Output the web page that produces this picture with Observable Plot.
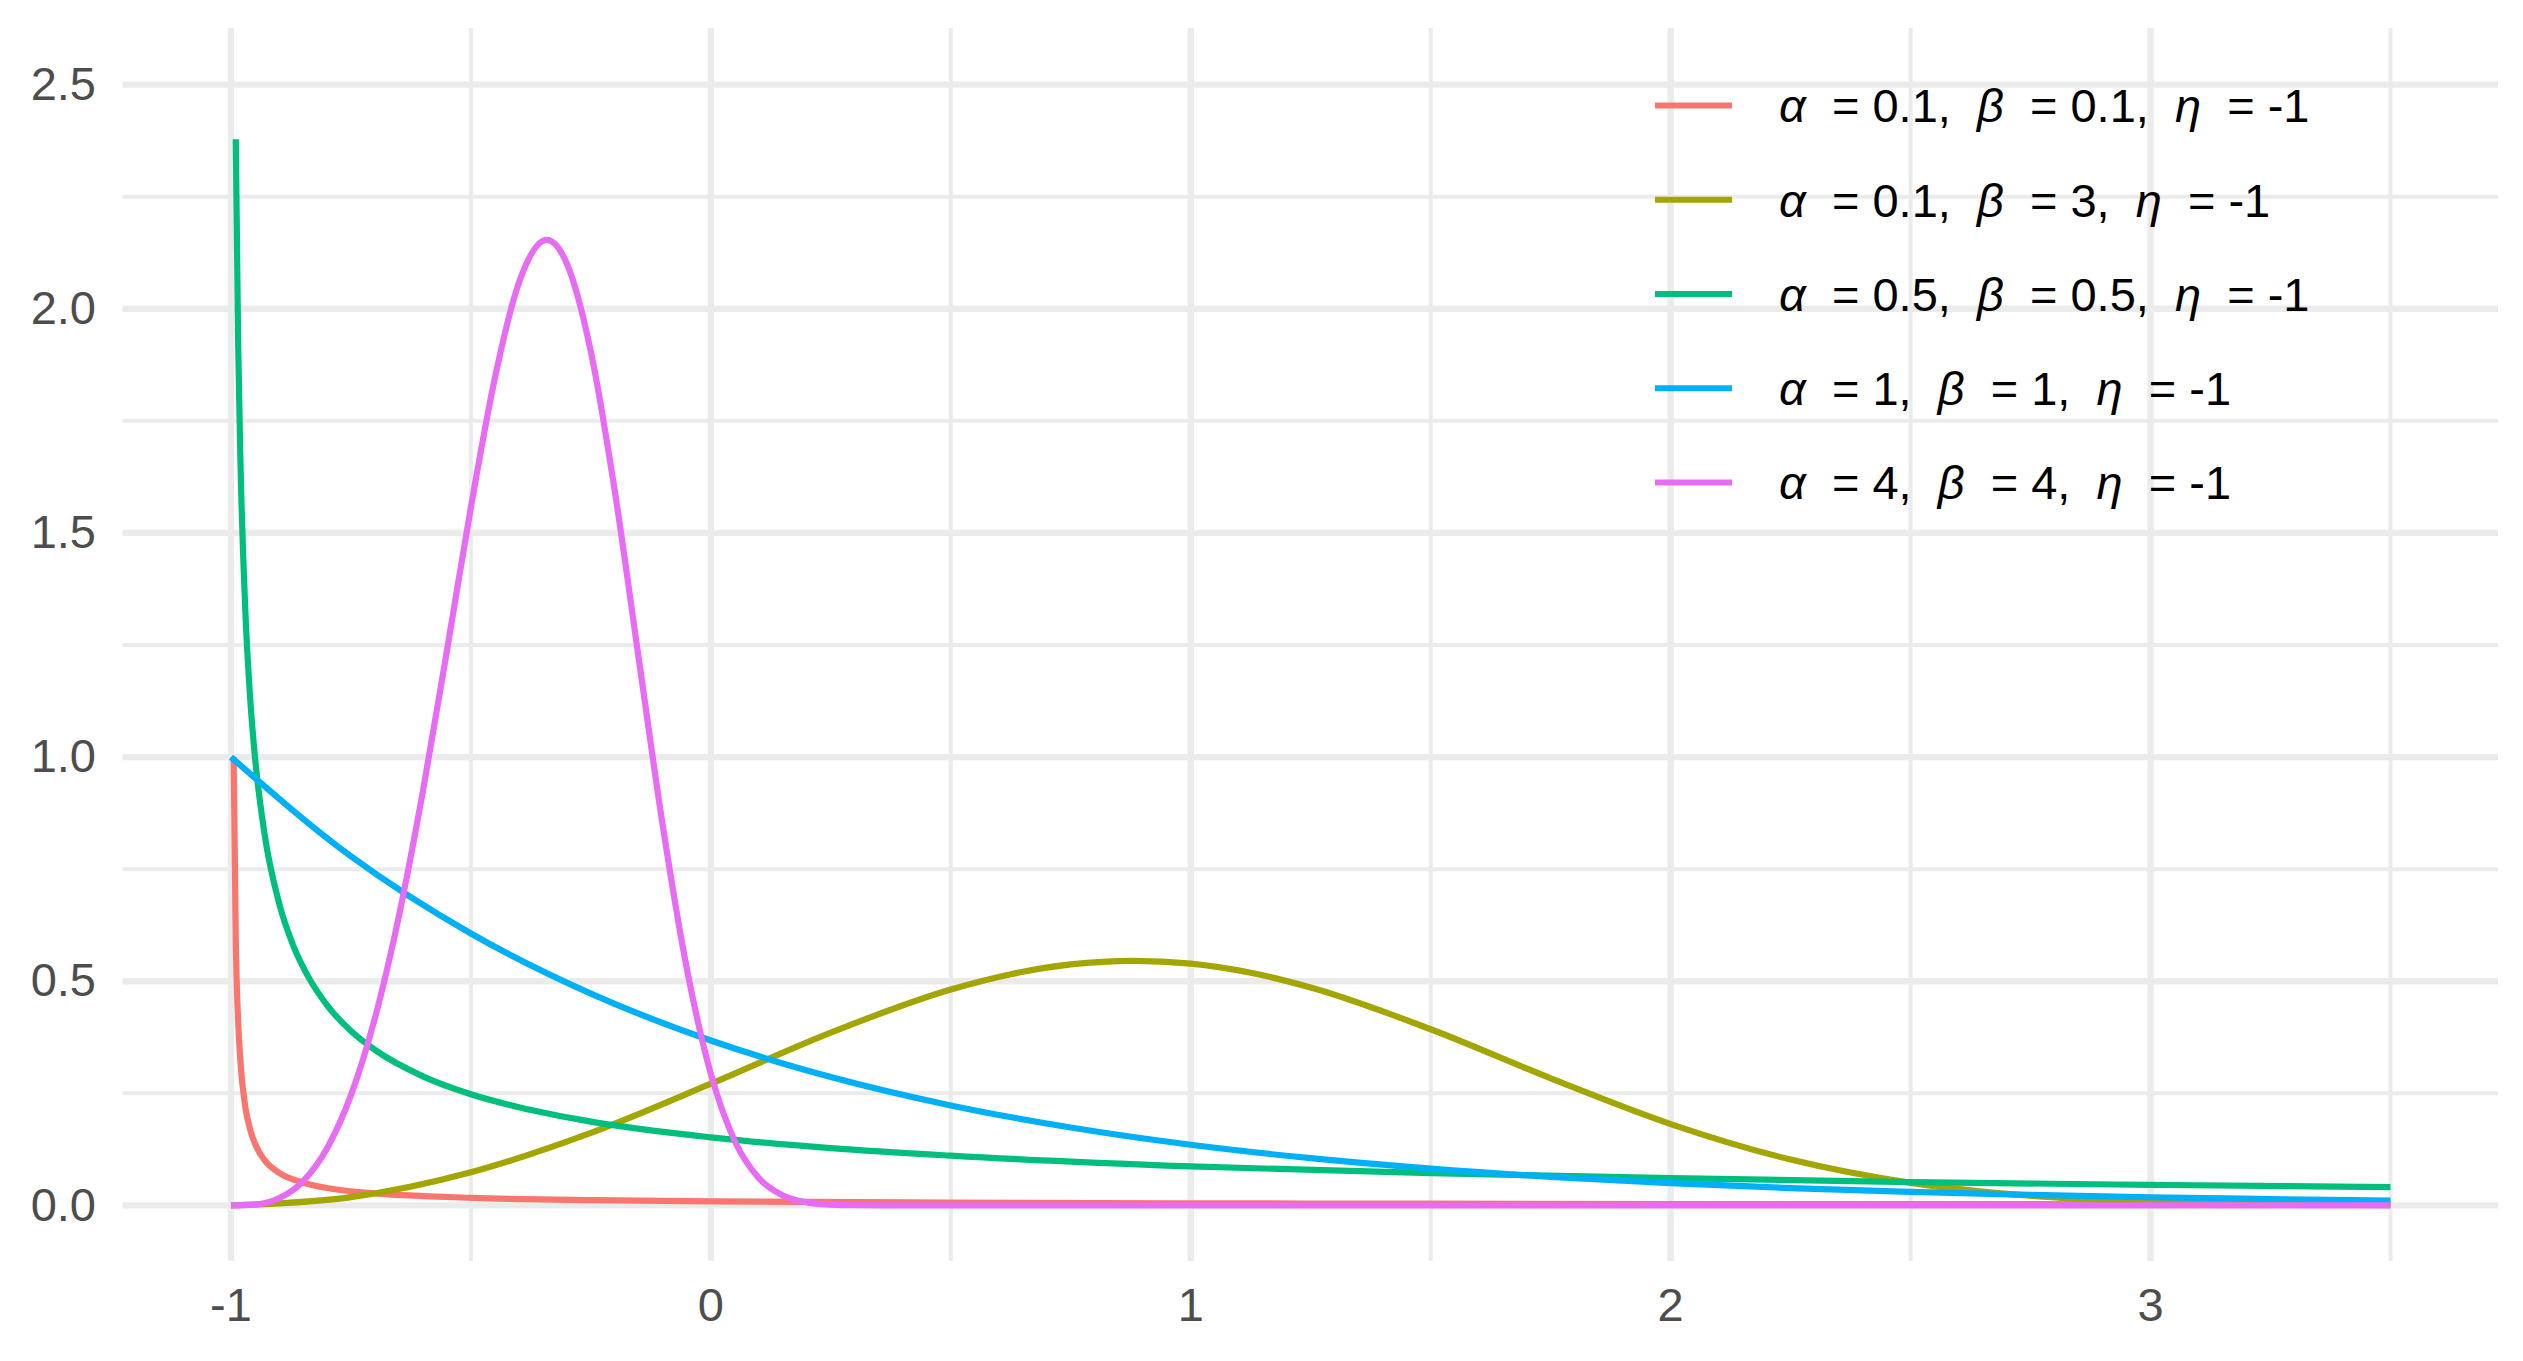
<!DOCTYPE html>
<html>
<head>
<meta charset="utf-8">
<script src="https://cdn.jsdelivr.net/npm/d3@7"></script>
<script src="https://cdn.jsdelivr.net/npm/@observablehq/plot@0.6"></script>
<style>
  html, body { margin: 0; padding: 0; background: #ffffff; }
  #wrap { position: relative; width: 2523px; height: 1361px; }
  #legend { position: absolute; left: 0; top: 0; pointer-events: none; }
</style>
</head>
<body>
<div id="wrap"></div>
<script>
// ---------- series ----------
const seriesNames = ["a0.1_b0.1", "a0.1_b3", "a0.5_b0.5", "a1_b1", "a4_b4"];
const seriesColors = ["#F8766D", "#A3A500", "#00BF7D", "#00B0F6", "#E76BF3"];
const alphaVals = ["0.1", "0.1", "0.5", "1", "4"];
const betaVals  = ["0.1", "3", "0.5", "1", "4"];
const etaVals   = ["-1", "-1", "-1", "-1", "-1"];

// ---------- values ----------
const xRed = [-0.9944, -0.99, -0.985, -0.98, -0.97, -0.96, -0.95, -0.93, -0.9, -0.85, -0.8, -0.7, -0.6, -0.5, -0.25, 0, 0.5, 1, 1.5, 2, 2.5, 3, 3.5];
const yRed = [1.00, 0.592, 0.410, 0.316, 0.219, 0.169, 0.138, 0.101, 0.073, 0.051, 0.039, 0.027, 0.021, 0.017, 0.0118, 0.0091, 0.0063, 0.0048, 0.0039, 0.0033, 0.0029, 0.0026, 0.0023];

const xOlive = [-1, -0.75, -0.5, -0.25, 0, 0.25, 0.5, 0.625, 0.75, 0.88, 1, 1.125, 1.25, 1.5, 1.75, 2, 2.25, 2.5, 2.75, 3, 3.25, 3.5];
const yOlive = [0, 0.0187, 0.0741, 0.1618, 0.2715, 0.3856, 0.4817, 0.5158, 0.5376, 0.5456, 0.5392, 0.5189, 0.4862, 0.3930, 0.2835, 0.1815, 0.1023, 0.0505, 0.0217, 0.0080, 0.0025, 0.0007];

const xGreen = [-0.99, -0.985, -0.98, -0.97, -0.96, -0.95, -0.93, -0.9, -0.87, -0.84, -0.8, -0.75, -0.7, -0.6, -0.5, -0.4, -0.25, 0, 0.25, 0.5, 1, 1.5, 2, 2.5, 3, 3.5];
const yGreen = [2.378, 1.920, 1.647, 1.324, 1.131, 1.000, 0.828, 0.675, 0.579, 0.512, 0.447, 0.389, 0.347, 0.288, 0.248, 0.219, 0.187, 0.152, 0.128, 0.111, 0.087, 0.072, 0.061, 0.052, 0.046, 0.041];

const xBlue = [-1, -0.75, -0.5, -0.25, 0, 0.25, 0.5, 0.75, 1, 1.25, 1.5, 1.75, 2, 2.25, 2.5, 2.75, 3, 3.25, 3.5];
const yBlue = [1.000, 0.7788, 0.6065, 0.4724, 0.3679, 0.2865, 0.2231, 0.1738, 0.1353, 0.1054, 0.0821, 0.0639, 0.0498, 0.0388, 0.0302, 0.0235, 0.0183, 0.0143, 0.0111];

const xPink = [-1, -0.95, -0.9, -0.85, -0.8, -0.75, -0.7, -0.65, -0.6, -0.55, -0.5, -0.45, -0.4, -0.342, -0.3, -0.25, -0.2, -0.15, -0.1, -0.05, 0, 0.05, 0.1, 0.15, 0.2, 0.25, 0.3, 0.4, 1, 2, 3.5];
const yPink = [0, 0.0020, 0.0160, 0.0539, 0.1272, 0.2461, 0.4182, 0.6460, 0.9243, 1.2374, 1.5576, 1.8460, 2.0580, 2.1534, 2.1005, 1.9038, 1.5917, 1.2177, 0.8451, 0.5277, 0.2931, 0.1433, 0.0610, 0.0223, 0.0069, 0.0018, 0.0004, 0, 0, 0, 0];

// ---------- axes ----------
const xTicks = [-1, 0, 1, 2, 3];
const xTickLabels = ["-1", "0", "1", "2", "3"];
const xMinor = [-0.5, 0.5, 1.5, 2.5, 3.5];
const yTicks = [0, 0.5, 1, 1.5, 2, 2.5];
const yTickLabels = ["0.0", "0.5", "1.0", "1.5", "2.0", "2.5"];
const yMinor = [0.25, 0.75, 1.25, 1.75, 2.25];

// ---------- table ----------
const seriesX = [xRed, xOlive, xGreen, xBlue, xPink];
const seriesY = [yRed, yOlive, yGreen, yBlue, yPink];
const rows = [];
seriesNames.forEach((s, k) => {
  seriesX[k].forEach((xv, i) => rows.push({series: s, x: xv, y: seriesY[k][i]}));
});

const W = 2523, H = 1361;
const gridColor = "#EBEBEB";
const font = "'Liberation Sans', Arial, sans-serif";

const chart = Plot.plot({
  width: W,
  height: H,
  marginTop: 28,
  marginBottom: 100,
  marginLeft: 122.5,
  marginRight: 25,
  style: {fontFamily: font, fontSize: "47px", color: "#4D4D4D", background: "#ffffff"},
  x: {domain: [-1.225, 3.725]},
  y: {domain: [-0.125, 2.625]},
  color: {domain: seriesNames, range: seriesColors},
  marks: [
    Plot.gridX(xMinor, {stroke: gridColor, strokeOpacity: 1, strokeWidth: 4}),
    Plot.gridY(yMinor, {stroke: gridColor, strokeOpacity: 1, strokeWidth: 4}),
    Plot.gridX(xTicks, {stroke: gridColor, strokeOpacity: 1, strokeWidth: 6.3}),
    Plot.gridY(yTicks, {stroke: gridColor, strokeOpacity: 1, strokeWidth: 6.3}),
    Plot.axisX(xTicks, {tickSize: 0, tickPadding: 26, fontSize: 47, fill: "#4D4D4D", label: null,
      tickFormat: d => xTickLabels[xTicks.indexOf(d)]}),
    Plot.axisY(yTicks, {tickSize: 0, tickPadding: 27, fontSize: 47, fill: "#4D4D4D", label: null,
      tickFormat: d => yTickLabels[yTicks.indexOf(d)]}),
    Plot.line(rows, {x: "x", y: "y", z: "series", stroke: "series", strokeWidth: 6.2,
      curve: "monotone-x", strokeLinecap: "butt", strokeLinejoin: "round"})
  ]
});

const wrap = document.getElementById("wrap");
wrap.appendChild(chart);

// ---------- legend overlay (inside the panel, top right) ----------
const leg = d3.select(wrap).append("svg")
  .attr("id", "legend")
  .attr("width", W).attr("height", H)
  .style("font-family", font);

const keyX1 = 1655, keyX2 = 1732, textX = 1779, rowY0 = 105.5, rowStep = 94.25, legFont = 47;
seriesNames.forEach((s, i) => {
  const cy = rowY0 + i * rowStep;
  leg.append("line")
    .attr("x1", keyX1).attr("x2", keyX2).attr("y1", cy).attr("y2", cy)
    .attr("stroke", seriesColors[i]).attr("stroke-width", 6.2);
  const t = leg.append("text")
    .attr("x", textX).attr("y", cy + 0.358 * legFont)
    .attr("font-size", legFont).attr("fill", "#000000")
    .attr("xml:space", "preserve").style("white-space", "pre");
  t.append("tspan").attr("font-style", "italic").text("\u03B1");
  t.append("tspan").text("  = " + alphaVals[i] + ",  ");
  t.append("tspan").attr("font-style", "italic").text("\u03B2");
  t.append("tspan").text("  = " + betaVals[i] + ",  ");
  t.append("tspan").attr("font-style", "italic").text("\u03B7");
  t.append("tspan").text("  = " + etaVals[i]);
});
</script>
</body>
</html>
